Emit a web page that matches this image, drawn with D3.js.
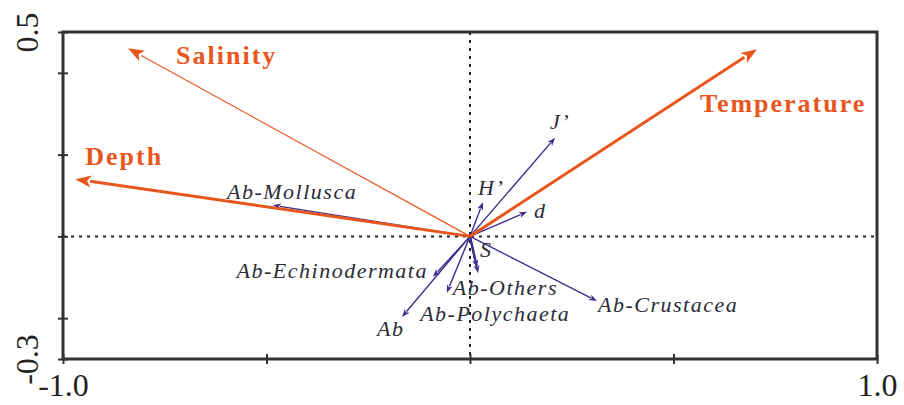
<!DOCTYPE html>
<html><head><meta charset="utf-8">
<script src="https://cdn.jsdelivr.net/npm/d3@7"></script>
<style>
html,body{margin:0;padding:0;background:#fff;}
svg{display:block;}
</style></head>
<body>
<svg id="chart" width="904" height="405"></svg>
<script>
// ---- data ----
const envNames = ["Salinity", "Depth", "Temperature"];
const envX = [-0.84, -0.97, 0.705];
const envY = [0.46, 0.14, 0.458];
const envWidth = [1.2, 3, 3]; // line weight per vector

const spNames = ["J\u2019", "H\u2019", "d", "Ab-Mollusca", "S", "Ab-Polychaeta", "Ab-Echinodermata", "Ab-Others", "Ab", "Ab-Crustacea"];
const spX = [0.209, 0.032, 0.14, -0.484, 0.017, 0.02, -0.091, -0.057, -0.167, 0.312];
const spY = [0.241, 0.084, 0.06, 0.076, -0.077, -0.09, -0.099, -0.138, -0.197, -0.158];

const xTicks = [-1.0, -0.5, 0, 0.5, 1.0];
const yTicks = [-0.3, -0.2, 0, 0.2, 0.4, 0.5];
const xTickLabels = ["-1.0", "", "", "", "1.0"];
const yTickLabels = ["-0.3", "", "", "", "", "0.5"];

// ---- layout (label offsets in px from arrow tip) ----
const envLabelOff = [[48, 16, "start"], [10, -14, "start"], [-57, 63, "start"]];
const spLabelOff = [[-5, -9, "start"], [-5, -7, "start"], [7, 6, "start"], [-46, -6, "start"], [3, -11, "start"],
  [-58, 48, "start"], [-5, 1, "end"], [6, 2, "start"], [-25, 19, "start"], [1, 11, "start"]];

const L = 63, R = 877, T = 32, B = 359;
const x = d3.scaleLinear().domain([-1, 1]).range([L, R]);
const y = d3.scaleLinear().domain([-0.3, 0.5]).range([B, T]);

const svg = d3.select("#chart");
const ORANGE = "#E8561E";
const PURPLE = "#3F2C8C";
const FRAME = "#333333";

// dotted zero lines
svg.append("line").attr("x1", L).attr("x2", R).attr("y1", y(0)).attr("y2", y(0))
  .attr("stroke", "#222").attr("stroke-width", 2).attr("stroke-dasharray", "3,5");
svg.append("line").attr("x1", x(0)).attr("x2", x(0)).attr("y1", T).attr("y2", B)
  .attr("stroke", "#222").attr("stroke-width", 2).attr("stroke-dasharray", "3,5");

// axes
const xAxis = svg.append("g").attr("transform", `translate(0,${B})`)
  .call(d3.axisBottom(x).tickValues(xTicks).tickSize(5).tickFormat((d, i) => xTickLabels[i]));
xAxis.select(".domain").remove();
xAxis.selectAll(".tick line").attr("y1", -5).attr("y2", 5).attr("stroke", FRAME).attr("stroke-width", 2);
xAxis.selectAll(".tick text").attr("y", 14).attr("dy", "0.71em")
  .style("font-family", "'Liberation Serif','Times New Roman',serif").style("font-size", "32px").attr("fill", "#222");

const yAxis = svg.append("g").attr("transform", `translate(${L},0)`)
  .call(d3.axisLeft(y).tickValues(yTicks).tickSize(5).tickFormat((d, i) => yTickLabels[i]));
yAxis.select(".domain").remove();
yAxis.selectAll(".tick line").attr("x1", -5).attr("x2", 5).attr("stroke", FRAME).attr("stroke-width", 2);
yAxis.selectAll(".tick text")
  .attr("x", null).attr("dy", null)
  .attr("text-anchor", "middle")
  .attr("transform", "translate(-25,0) rotate(-90)")
  .style("font-family", "'Liberation Serif','Times New Roman',serif").style("font-size", "32px").attr("fill", "#222");

// frame
svg.append("rect").attr("x", L).attr("y", T).attr("width", R - L).attr("height", B - T)
  .attr("fill", "none").attr("stroke", FRAME).attr("stroke-width", 3);

// arrow helper
function arrow(g, x0, y0, x1, y1, color, w, hl, hw) {
  const dx = x1 - x0, dy = y1 - y0, len = Math.hypot(dx, dy);
  const ux = dx / len, uy = dy / len;
  const bx = x1 - ux * hl, by = y1 - uy * hl;
  g.append("line").attr("x1", x0).attr("y1", y0).attr("x2", bx + ux * 1).attr("y2", by + uy * 1)
    .attr("stroke", color).attr("stroke-width", w);
  const px = -uy, py = ux;
  g.append("path")
    .attr("d", `M${x1},${y1}L${bx + px * hw / 2},${by + py * hw / 2}L${bx + ux * hl * 0.25},${by + uy * hl * 0.25}L${bx - px * hw / 2},${by - py * hw / 2}Z`)
    .attr("fill", color);
}

const gSp = svg.append("g");
spNames.forEach((n, i) => {
  const w = (n === "S" || n === "Ab-Polychaeta") ? 2.2 : 1.4;
  arrow(gSp, x(0), y(0), x(spX[i]), y(spY[i]), PURPLE, w, 8, 6);
});

const gEnv = svg.append("g");
envNames.forEach((n, i) => {
  arrow(gEnv, x(0), y(0), x(envX[i]), y(envY[i]), ORANGE, envWidth[i], 16, 12);
});

// labels
svg.append("g").selectAll("text").data(envNames).join("text")
  .attr("x", (d, i) => x(envX[i]) + envLabelOff[i][0])
  .attr("y", (d, i) => y(envY[i]) + envLabelOff[i][1])
  .attr("text-anchor", (d, i) => envLabelOff[i][2])
  .style("font-family", "'Liberation Serif','Times New Roman',serif")
  .style("font-weight", "bold").style("font-size", "26px").style("letter-spacing", "2px")
  .attr("fill", ORANGE).text(d => d);

svg.append("g").selectAll("text").data(spNames).join("text")
  .attr("x", (d, i) => x(spX[i]) + spLabelOff[i][0])
  .attr("y", (d, i) => y(spY[i]) + spLabelOff[i][1])
  .attr("text-anchor", (d, i) => spLabelOff[i][2])
  .style("font-family", "'Liberation Serif','Times New Roman',serif")
  .style("font-style", "italic").style("font-size", "22px").style("letter-spacing", "1.5px")
  .attr("fill", "#2b2b38").text(d => d);
</script>
</body></html>
